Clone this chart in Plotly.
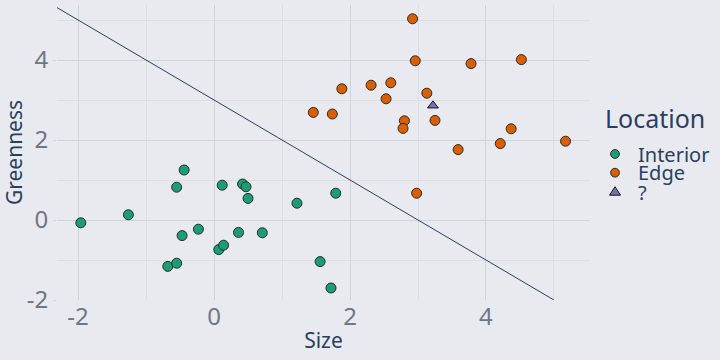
import plotly.graph_objects as go

interior_x = [-1.96, -1.26, -0.55, -0.44, 0.12, 0.42, 0.47, 0.50, 1.22, -0.47, -0.23, 0.36, 0.71, 0.07, 0.14, -0.68, -0.55, 1.79, 1.56, 1.72]
interior_y = [-0.07, 0.13, 0.82, 1.25, 0.87, 0.90, 0.83, 0.54, 0.42, -0.39, -0.23, -0.31, -0.32, -0.74, -0.63, -1.16, -1.08, 0.67, -1.04, -1.70]
edge_x = [2.92, 2.96, 3.78, 4.52, 1.88, 2.31, 2.60, 2.53, 3.13, 1.46, 1.74, 2.80, 2.78, 3.25, 4.37, 4.21, 5.17, 3.59, 2.98]
edge_y = [5.03, 3.98, 3.91, 4.01, 3.28, 3.37, 3.43, 3.03, 3.17, 2.69, 2.65, 2.48, 2.29, 2.49, 2.28, 1.91, 1.97, 1.76, 0.67]
unknown_x = [3.22]
unknown_y = [2.86]
boundary_x = [-2.31, 5.0]
boundary_y = [5.31, -2.0]

tick_vals = [-2, 0, 2, 4]
tick_text = ["-2", "0", "2", "4"]
minor_vals = [-3, -1, 1, 3, 5]

legend_title = "Location"
legend_labels = ["Interior", "Edge", "?"]
legend_colors = ["#1b9e77", "#d95f02", "#7570b3"]

NAVY = "#2a3f5f"
GRID = "#d0d3da"
MINOR = "#dcdee4"
BG = "#e9eaef"

fig = go.Figure()
fig.add_trace(go.Scatter(x=boundary_x, y=boundary_y, mode="lines",
                         line=dict(color=NAVY, width=1), showlegend=False, hoverinfo="skip"))
mk = dict(size=10, line=dict(color="#2b2b2b", width=1))
fig.add_trace(go.Scatter(x=interior_x, y=interior_y, mode="markers", name=legend_labels[0],
                         marker=dict(color=legend_colors[0], symbol="circle", **mk), showlegend=False))
fig.add_trace(go.Scatter(x=edge_x, y=edge_y, mode="markers", name=legend_labels[1],
                         marker=dict(color=legend_colors[1], symbol="circle", **mk), showlegend=False))
fig.add_trace(go.Scatter(x=unknown_x, y=unknown_y, mode="markers", name=legend_labels[2],
                         marker=dict(color=legend_colors[2], symbol="triangle-up", size=9.5,
                                     line=dict(color="#1a1a1a", width=1)), showlegend=False))

axis_common = dict(
    showgrid=True, gridcolor=GRID, gridwidth=1, zeroline=False, showline=False,
    automargin=False, tickmode="array", tickvals=tick_vals, ticktext=tick_text,
    tickfont=dict(size=24, color="#6f7687"),
    minor=dict(showgrid=True, gridcolor=MINOR, gridwidth=1, tickmode="array", tickvals=minor_vals),
)

# legend drawn manually (compact spacing)
L, R, T, B = 57, 130, 5, 60
PW, PH = 720 - L - R, 360 - T - B
def px(xp):
    return (xp - L) / PW
def py(yp):
    return (T + PH - yp) / PH

annotations = [dict(text=legend_title, x=px(603), y=py(118), xref="paper", yref="paper",
                    xanchor="left", yanchor="middle", showarrow=False,
                    font=dict(size=25, color=NAVY))]
label_y = [154.5, 172.5, 192.0]
for lab, yy in zip(legend_labels, label_y):
    annotations.append(dict(text=lab, x=px(635.5), y=py(yy), xref="paper", yref="paper",
                            xanchor="left", yanchor="middle", showarrow=False,
                            font=dict(size=20, color=NAVY)))
shapes = []
sym_y = [154.0, 172.7, 191.7]
for i in range(2):
    shapes.append(dict(type="circle", xref="paper", yref="paper", xsizemode="pixel", ysizemode="pixel",
                       xanchor=px(615), yanchor=py(sym_y[i]), x0=-4.4, x1=4.4, y0=-4.4, y1=4.4,
                       fillcolor=legend_colors[i], line=dict(color="#2b2b2b", width=1)))
shapes.append(dict(type="path", xref="paper", yref="paper", xsizemode="pixel", ysizemode="pixel",
                   xanchor=px(615), yanchor=py(sym_y[2]), path="M -5.5,-3.5 L 5.5,-3.5 L 0,5 Z",
                   fillcolor=legend_colors[2], line=dict(color="#1a1a1a", width=1)))

fig.update_layout(
    width=720, height=360,
    margin=dict(l=L, r=R, t=T, b=B),
    paper_bgcolor=BG, plot_bgcolor=BG,
    font=dict(family="Noto Sans", color=NAVY),
    showlegend=False,
    xaxis=dict(range=[-2.31, 5.53], title=dict(text="Size", font=dict(size=21), standoff=2), **axis_common),
    yaxis=dict(range=[-2.0, 5.375], ticks="outside", ticklen=3, tickcolor=GRID,
               title=dict(text="Greenness", font=dict(size=21), standoff=4), **axis_common),
    annotations=annotations,
    shapes=shapes,
)
fig.write_html("out.html", config={"displayModeBar": False},
               post_script="document.body.style.margin='0';")
